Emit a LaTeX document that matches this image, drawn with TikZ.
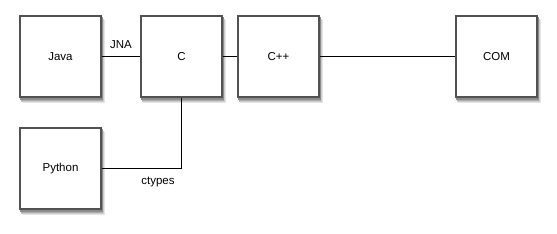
\documentclass[tikz,border=0pt]{standalone}
\usepackage{fontspec}
\setmainfont{Liberation Sans}
\usetikzlibrary{backgrounds,calc}
\newcommand{\boxshade}[1]{%
  \fill[black!10] ($(#1.north west)+(3,5)$) rectangle ($(#1.south east)+(3,5)$);
  \fill[black!20] ($(#1.north west)+(2,4)$) rectangle ($(#1.south east)+(2,4)$);
  \fill[black!32] ($(#1.north west)+(1.5,3)$) rectangle ($(#1.south east)+(1.5,3)$);
  \fill[black!45] ($(#1.north west)+(1,2)$) rectangle ($(#1.south east)+(1,2)$);}
\begin{document}
\begin{tikzpicture}[x=1pt,y=-1pt,
  box/.style={draw=black!68,line width=1.4pt,fill=white,minimum width=81pt,minimum height=81pt,inner sep=0pt,
    font=\fontsize{11.5}{13}\selectfont},
  conn/.style={draw=black,line width=0.8pt},
  lbl/.style={font=\fontsize{11.5}{13}\selectfont,inner sep=0pt}]
\useasboundingbox (0,0) rectangle (557,233);
\node[box] (java) at (60.5,56.5) {Java};
\node[box] (c) at (181.5,56.5) {C};
\node[box] (cpp) at (278.5,56.5) {C++};
\node[box] (com) at (496.5,56.5) {COM};
\node[box] (python) at (60.5,168.5) {Python};
\begin{scope}[on background layer]
\boxshade{java}\boxshade{c}\boxshade{cpp}\boxshade{com}\boxshade{python}
\end{scope}
\draw[conn] (java) -- (c);
\draw[conn] (c) -- (cpp);
\draw[conn] (cpp) -- (com);
\draw[conn] (c.south) |- (python.east);
\node[lbl] (jna) at (121,45) {JNA};
\node[lbl] (ctypes) at (158,182) {ctypes};
\end{tikzpicture}
\end{document}
